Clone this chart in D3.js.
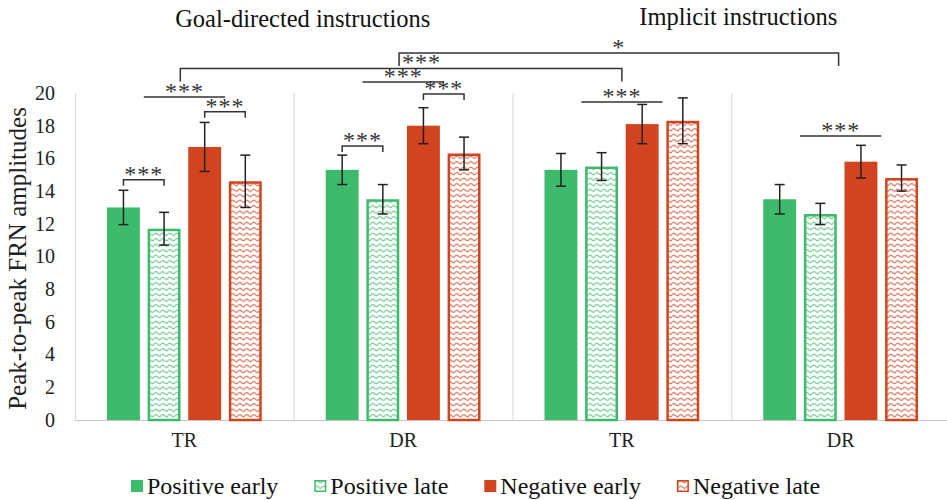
<!DOCTYPE html>
<html><head><meta charset="utf-8">
<script src="https://cdn.jsdelivr.net/npm/d3@7"></script>
<style>body{margin:0;background:#fff}svg{display:block}
text{font-family:"Liberation Serif","Times New Roman","DejaVu Serif",serif}</style>
</head><body>
<svg id="chart" width="947" height="500"></svg>
<script>
// ---- data ----
const categories = ["TR", "DR", "TR", "DR"];
const groupTitles = ["Goal-directed instructions", "Implicit instructions"];
const seriesNames = ["Positive early", "Positive late", "Negative early", "Negative late"];
const positiveEarly = [13.0, 15.3, 15.3, 13.5];
const positiveLate  = [11.7, 13.5, 15.5, 12.6];
const negativeEarly = [16.7, 18.0, 18.1, 15.8];
const negativeLate  = [14.6, 16.3, 18.3, 14.8];
const errPositiveEarly = [1.05, 0.9, 1.0, 0.9];
const errPositiveLate  = [1.0, 0.9, 0.85, 0.65];
const errNegativeEarly = [1.5, 1.1, 1.2, 1.0];
const errNegativeLate  = [1.6, 1.0, 1.4, 0.8];
const yTicks = [0, 2, 4, 6, 8, 10, 12, 14, 16, 18, 20];
const yLabel = "Peak-to-peak FRN amplitudes";
// significance: [fromCat, fromBar], [toCat, toBar], level, label, hasTicks
const sigFrom  = [[0,0],[0,2],[0,0.5],[0,1.4],[1,1.4],[1,0.5],[1,2],[1,0],[2,0.5],[3,0.5]];
const sigTo    = [[0,1],[0,3],[0,2.5],[2,1.5],[3,1.45],[1,2.5],[1,3],[1,1],[2,2.5],[3,2.5]];
const sigLevel = [14.7, 18.85, 19.75, 21.5, 22.45, 20.67, 19.94, 16.76, 19.45, 17.37];
const sigLabel = ["***","***","***","***","*","***","***","***","***","***"];
const sigTicks = [true, true, false, true, true, false, true, true, false, false];

const values = [positiveEarly, positiveLate, negativeEarly, negativeLate];
const errors = [errPositiveEarly, errPositiveLate, errNegativeEarly, errNegativeLate];

const GREEN = "#3dba6b", RED = "#d1441f";
const colors = [GREEN, GREEN, RED, RED];
const patterned = [false, true, false, true];
const FONT = '"Liberation Serif","Times New Roman","DejaVu Serif",serif';

const svg = d3.select("#chart");
const W = 947;
const plotBottom = 420, plotTop = 93;

// patterns
const defs = svg.append("defs");
[["waveG", GREEN], ["waveR", RED]].forEach(([id, c]) => {
  const p = defs.append("pattern").attr("id", id).attr("patternUnits", "userSpaceOnUse")
    .attr("width", 7).attr("height", 5.5);
  p.append("rect").attr("width", 7).attr("height", 5.5).attr("fill", "#fff");
  p.append("path").attr("d", "M0,3.2 Q1.75,1 3.5,3.2 T7,3.2").attr("fill", "none")
    .attr("stroke", c).attr("stroke-width", 1.1).attr("opacity", 0.8);
});
const fillFor = i => patterned[i] ? (colors[i] === GREEN ? "url(#waveG)" : "url(#waveR)") : colors[i];

const x = d3.scaleBand().domain(d3.range(categories.length)).range([75, 950]).padding(0);
const inner = d3.scaleBand().domain(d3.range(seriesNames.length))
  .range([32, x.bandwidth() - 32]).paddingInner(0.19).paddingOuter(0);
const y = d3.scaleLinear().domain([0, 20]).range([plotBottom, plotTop]);

const xAt = (cat, pos) => x(cat) + inner(0) + pos * inner.step() + inner.bandwidth() / 2;

// vertical separators
svg.append("g").selectAll("line").data(d3.range(categories.length)).join("line")
  .attr("x1", d => x(d) + 0.5).attr("x2", d => x(d) + 0.5)
  .attr("y1", y(20)).attr("y2", y(0))
  .attr("stroke", "#dcdcdc").attr("stroke-width", 1.2);

// x axis baseline
svg.append("line").attr("x1", 75).attr("x2", W).attr("y1", y(0) + 0.5).attr("y2", y(0) + 0.5)
  .attr("stroke", "#c8c8c8").attr("stroke-width", 1.2);

// y tick labels
svg.append("g").selectAll("text").data(yTicks).join("text")
  .attr("x", 55).attr("y", d => y(d)).attr("dy", "0.34em")
  .attr("text-anchor", "end").style("font-family", FONT)
  .attr("font-size", 20).attr("fill", "#222").text(d => d);

// y label
svg.append("text").attr("transform", `translate(26,${(y(0) + y(20)) / 2 + 2}) rotate(-90)`)
  .attr("text-anchor", "middle").style("font-family", FONT)
  .attr("font-size", 25).attr("fill", "#222").text(yLabel);

// category labels
svg.append("g").selectAll("text").data(categories).join("text")
  .attr("x", (d, i) => x(i) + x.bandwidth() / 2).attr("y", 447)
  .attr("text-anchor", "middle").style("font-family", FONT)
  .attr("font-size", 20).attr("fill", "#222").text(d => d);

// group titles
[[0, 1], [2, 3]].forEach((cats, gi) => {
  const cx = (x(cats[0]) + x(cats[1]) + x.bandwidth()) / 2 + (gi === 0 ? 9 : 7);
  svg.append("text").attr("x", cx).attr("y", gi === 0 ? 27 : 25)
    .attr("text-anchor", "middle").style("font-family", FONT)
    .attr("font-size", 24.5).attr("fill", "#111").text(groupTitles[gi]);
});

// bars
const barData = [];
values.forEach((arr, si) => arr.forEach((v, ci) => barData.push({si, ci, v, e: errors[si][ci]})));
svg.append("g").selectAll("rect").data(barData).join("rect")
  .attr("x", d => x(d.ci) + inner(d.si) + (patterned[d.si] ? 1.25 : 0))
  .attr("y", d => y(d.v) + (patterned[d.si] ? 1.25 : 0))
  .attr("width", d => inner.bandwidth() - (patterned[d.si] ? 2.5 : 0))
  .attr("height", d => y(0) - y(d.v) - (patterned[d.si] ? 1.25 : 0))
  .attr("fill", d => fillFor(d.si))
  .attr("stroke", d => patterned[d.si] ? colors[d.si] : "none")
  .attr("stroke-width", 2.5);

// error bars
const eg = svg.append("g").attr("stroke", "#222").attr("stroke-width", 1.5);
barData.forEach(d => {
  const cx = x(d.ci) + inner(d.si) + inner.bandwidth() / 2;
  eg.append("line").attr("x1", cx).attr("x2", cx).attr("y1", y(d.v + d.e)).attr("y2", y(d.v - d.e));
  eg.append("line").attr("x1", cx - 5).attr("x2", cx + 5).attr("y1", y(d.v + d.e)).attr("y2", y(d.v + d.e));
  eg.append("line").attr("x1", cx - 5).attr("x2", cx + 5).attr("y1", y(d.v - d.e)).attr("y2", y(d.v - d.e));
});

// significance brackets
const sg = svg.append("g");
sigLevel.forEach((lv, i) => {
  const x1 = xAt(sigFrom[i][0], sigFrom[i][1]);
  const x2 = xAt(sigTo[i][0], sigTo[i][1]);
  const yy = y(lv);
  const big = sigFrom[i][0] !== sigTo[i][0];
  const drop = big ? 13 : 6;
  const path = sigTicks[i]
    ? `M${x1},${yy + drop}V${yy}H${x2}V${yy + drop}`
    : `M${x1},${yy}H${x2}`;
  sg.append("path").attr("d", path).attr("fill", "none").attr("stroke", "#333").attr("stroke-width", 1.5);
});
sigLevel.forEach((lv, i) => {
  const x1 = xAt(sigFrom[i][0], sigFrom[i][1]);
  const x2 = xAt(sigTo[i][0], sigTo[i][1]);
  const yy = y(lv);
  const lx = (i === 3) ? xAt(1, 1.95) : (x1 + x2) / 2;
  sg.append("text").attr("x", lx).attr("y", yy + 2)
    .attr("text-anchor", "middle").style("font-family", FONT)
    .attr("font-size", 24).attr("letter-spacing", 1).attr("fill", "#333").text(sigLabel[i]);
});

// legend
const lg = svg.append("g");
let lx = 131;
seriesNames.forEach((name, i) => {
  lg.append("rect").attr("x", lx + (patterned[i] ? 0.75 : 0)).attr("y", 480 + (patterned[i] ? 0.75 : 0))
    .attr("width", patterned[i] ? 10.5 : 12).attr("height", patterned[i] ? 10.5 : 12)
    .attr("fill", fillFor(i)).attr("stroke", patterned[i] ? colors[i] : "none").attr("stroke-width", 1.5);
  const t = lg.append("text").attr("x", lx + 16).attr("y", 494).style("font-family", FONT)
    .attr("font-size", 24).attr("fill", "#111").text(name);
  lx += 16 + t.node().getComputedTextLength() + 36;
});
</script>
</body></html>
